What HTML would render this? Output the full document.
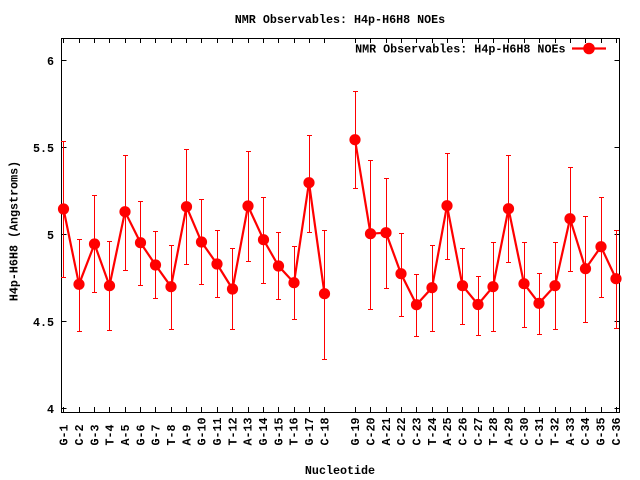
<!DOCTYPE html>
<html>
<head>
<meta charset="utf-8">
<style>
html,body{margin:0;padding:0;background:#fff;}
svg{display:block;}
text{font-family:"Liberation Mono","DejaVu Sans Mono",monospace;font-weight:bold;font-size:11.7px;fill:#000;}
</style>
</head>
<body>
<svg width="640" height="480" viewBox="0 0 640 480" xmlns="http://www.w3.org/2000/svg">
<rect x="0" y="0" width="640" height="480" fill="#fff"/>
<!-- Title -->
<text x="340" y="23" text-anchor="middle">NMR Observables: H4p-H6H8 NOEs</text>
<!-- Frame -->
<g stroke="#000" stroke-width="1" fill="none" shape-rendering="crispEdges">
<rect x="61.5" y="38.5" width="558" height="374"/>
<!-- y ticks -->
<path d="M61.5 60.5h5M619.5 60.5h-5M61.5 147.5h5M619.5 147.5h-5M61.5 234.5h5M619.5 234.5h-5M61.5 321.5h5M619.5 321.5h-5M61.5 408.5h5M619.5 408.5h-5"/>
<!-- x ticks -->
<path d="M63.5 412v-5M63.5 38v5M79.5 412v-5M79.5 38v5M94.5 412v-5M94.5 38v5M109.5 412v-5M109.5 38v5M125.5 412v-5M125.5 38v5M140.5 412v-5M140.5 38v5M155.5 412v-5M155.5 38v5M171.5 412v-5M171.5 38v5M186.5 412v-5M186.5 38v5M201.5 412v-5M201.5 38v5M217.5 412v-5M217.5 38v5M232.5 412v-5M232.5 38v5M248.5 412v-5M248.5 38v5M263.5 412v-5M263.5 38v5M278.5 412v-5M278.5 38v5M294.5 412v-5M294.5 38v5M309.5 412v-5M309.5 38v5M324.5 412v-5M324.5 38v5M355.5 412v-5M355.5 38v5M370.5 412v-5M370.5 38v5M386.5 412v-5M386.5 38v5M401.5 412v-5M401.5 38v5M416.5 412v-5M416.5 38v5M432.5 412v-5M432.5 38v5M447.5 412v-5M447.5 38v5M462.5 412v-5M462.5 38v5M478.5 412v-5M478.5 38v5M493.5 412v-5M493.5 38v5M508.5 412v-5M508.5 38v5M524.5 412v-5M524.5 38v5M539.5 412v-5M539.5 38v5M555.5 412v-5M555.5 38v5M570.5 412v-5M570.5 38v5M585.5 412v-5M585.5 38v5M601.5 412v-5M601.5 38v5M616.5 412v-5M616.5 38v5"/>
</g>
<!-- y tick labels -->
<text x="54" y="65" text-anchor="end">6</text>
<text x="54" y="152" text-anchor="end">5.5</text>
<text x="54" y="239" text-anchor="end">5</text>
<text x="54" y="326" text-anchor="end">4.5</text>
<text x="54" y="413" text-anchor="end">4</text>
<!-- y axis label -->
<text transform="translate(17.5,231) rotate(-90)" text-anchor="middle">H4p-H6H8 (Angstroms)</text>
<!-- x axis label -->
<text x="340" y="474" text-anchor="middle">Nucleotide</text>
<!-- x tick labels -->
<g text-anchor="start">
<text transform="translate(67.5,445.5) rotate(-90)">G-1</text>
<text transform="translate(83,445.5) rotate(-90)">C-2</text>
<text transform="translate(98.5,445.5) rotate(-90)">G-3</text>
<text transform="translate(113.5,445.5) rotate(-90)">T-4</text>
<text transform="translate(129,445.5) rotate(-90)">A-5</text>
<text transform="translate(144.5,445.5) rotate(-90)">G-6</text>
<text transform="translate(159.5,445.5) rotate(-90)">G-7</text>
<text transform="translate(175,445.5) rotate(-90)">T-8</text>
<text transform="translate(190.5,445.5) rotate(-90)">A-9</text>
<text transform="translate(205.5,445.5) rotate(-90)">G-10</text>
<text transform="translate(221,445.5) rotate(-90)">G-11</text>
<text transform="translate(236.5,445.5) rotate(-90)">T-12</text>
<text transform="translate(251.5,445.5) rotate(-90)">A-13</text>
<text transform="translate(267,445.5) rotate(-90)">G-14</text>
<text transform="translate(282.5,445.5) rotate(-90)">G-15</text>
<text transform="translate(297.5,445.5) rotate(-90)">T-16</text>
<text transform="translate(313,445.5) rotate(-90)">G-17</text>
<text transform="translate(328.5,445.5) rotate(-90)">C-18</text>
<text transform="translate(359,445.5) rotate(-90)">G-19</text>
<text transform="translate(374.5,445.5) rotate(-90)">C-20</text>
<text transform="translate(390,445.5) rotate(-90)">A-21</text>
<text transform="translate(405,445.5) rotate(-90)">C-22</text>
<text transform="translate(420.5,445.5) rotate(-90)">C-23</text>
<text transform="translate(436,445.5) rotate(-90)">T-24</text>
<text transform="translate(451,445.5) rotate(-90)">A-25</text>
<text transform="translate(466.5,445.5) rotate(-90)">C-26</text>
<text transform="translate(482,445.5) rotate(-90)">C-27</text>
<text transform="translate(497,445.5) rotate(-90)">T-28</text>
<text transform="translate(512.5,445.5) rotate(-90)">A-29</text>
<text transform="translate(528,445.5) rotate(-90)">C-30</text>
<text transform="translate(543,445.5) rotate(-90)">C-31</text>
<text transform="translate(558.5,445.5) rotate(-90)">T-32</text>
<text transform="translate(574,445.5) rotate(-90)">A-33</text>
<text transform="translate(589,445.5) rotate(-90)">C-34</text>
<text transform="translate(604.5,445.5) rotate(-90)">G-35</text>
<text transform="translate(620,445.5) rotate(-90)">C-36</text>
</g>
<!-- Error bars -->
<g stroke="#f00" stroke-width="1" fill="none" shape-rendering="crispEdges">
<path d="M63.5 141.5V277.5M61 141.5h5M61 277.5h5"/>
<path d="M79.5 239.5V331.5M77 239.5h5M77 331.5h5"/>
<path d="M94.5 195.5V292.5M92 195.5h5M92 292.5h5"/>
<path d="M109.5 241.5V330.5M107 241.5h5M107 330.5h5"/>
<path d="M125.5 155.5V270.5M123 155.5h5M123 270.5h5"/>
<path d="M140.5 201.5V285.5M138 201.5h5M138 285.5h5"/>
<path d="M155.5 231.5V298.5M153 231.5h5M153 298.5h5"/>
<path d="M171.5 245.5V329.5M169 245.5h5M169 329.5h5"/>
<path d="M186.5 149.5V264.5M184 149.5h5M184 264.5h5"/>
<path d="M201.5 199.5V284.5M199 199.5h5M199 284.5h5"/>
<path d="M217.5 230.5V297.5M215 230.5h5M215 297.5h5"/>
<path d="M232.5 248.5V329.5M230 248.5h5M230 329.5h5"/>
<path d="M248.5 151.5V261.5M246 151.5h5M246 261.5h5"/>
<path d="M263.5 197.5V283.5M261 197.5h5M261 283.5h5"/>
<path d="M278.5 232.5V299.5M276 232.5h5M276 299.5h5"/>
<path d="M294.5 246.5V319.5M292 246.5h5M292 319.5h5"/>
<path d="M309.5 135.5V232.5M307 135.5h5M307 232.5h5"/>
<path d="M324.5 230.5V359.5M322 230.5h5M322 359.5h5"/>
<path d="M355.5 91.5V188.5M353 91.5h5M353 188.5h5"/>
<path d="M370.5 160.5V309.5M368 160.5h5M368 309.5h5"/>
<path d="M386.5 178.5V288.5M384 178.5h5M384 288.5h5"/>
<path d="M401.5 233.5V316.5M399 233.5h5M399 316.5h5"/>
<path d="M416.5 274.5V336.5M414 274.5h5M414 336.5h5"/>
<path d="M432.5 245.5V331.5M430 245.5h5M430 331.5h5"/>
<path d="M447.5 153.5V259.5M445 153.5h5M445 259.5h5"/>
<path d="M462.5 248.5V324.5M460 248.5h5M460 324.5h5"/>
<path d="M478.5 276.5V335.5M476 276.5h5M476 335.5h5"/>
<path d="M493.5 242.5V331.5M491 242.5h5M491 331.5h5"/>
<path d="M508.5 155.5V262.5M506 155.5h5M506 262.5h5"/>
<path d="M524.5 242.5V327.5M522 242.5h5M522 327.5h5"/>
<path d="M539.5 273.5V334.5M537 273.5h5M537 334.5h5"/>
<path d="M555.5 242.5V329.5M553 242.5h5M553 329.5h5"/>
<path d="M570.5 167.5V271.5M568 167.5h5M568 271.5h5"/>
<path d="M585.5 216.5V322.5M583 216.5h5M583 322.5h5"/>
<path d="M601.5 197.5V297.5M599 197.5h5M599 297.5h5"/>
<path d="M616.5 230.5V328.5M614 230.5h5M614 328.5h5"/>
</g>
<!-- Lines -->
<g stroke="#f00" stroke-width="2.2" fill="none" stroke-linejoin="round">
<polyline points="63.5,209 79,284.3 94.5,244 109.5,285.7 125,211.7 140.5,242.7 155.5,265 171,286.7 186.5,206.7 201.5,242 217,264 232.5,289 248,206 263.5,239.7 278.5,266 294,282.7 309,182.7 324.5,293.7"/>
<polyline points="355,139.7 370.5,233.7 386,232.7 401,273.7 416.5,304.7 432,287.7 447,205.7 462.5,285.7 478,304.5 493,286.7 508.5,208.7 524,283.7 539,303.3 555,285.7 570,218.7 585.5,268.7 601,246.7 616,278.7"/>
</g>
<!-- Markers -->
<g fill="#f00">
<circle cx="63.5" cy="209" r="5.6"/>
<circle cx="79" cy="284.3" r="5.6"/>
<circle cx="94.5" cy="244" r="5.6"/>
<circle cx="109.5" cy="285.7" r="5.6"/>
<circle cx="125" cy="211.7" r="5.6"/>
<circle cx="140.5" cy="242.7" r="5.6"/>
<circle cx="155.5" cy="265" r="5.6"/>
<circle cx="171" cy="286.7" r="5.6"/>
<circle cx="186.5" cy="206.7" r="5.6"/>
<circle cx="201.5" cy="242" r="5.6"/>
<circle cx="217" cy="264" r="5.6"/>
<circle cx="232.5" cy="289" r="5.6"/>
<circle cx="248" cy="206" r="5.6"/>
<circle cx="263.5" cy="239.7" r="5.6"/>
<circle cx="278.5" cy="266" r="5.6"/>
<circle cx="294" cy="282.7" r="5.6"/>
<circle cx="309" cy="182.7" r="5.6"/>
<circle cx="324.5" cy="293.7" r="5.6"/>
<circle cx="355" cy="139.7" r="5.6"/>
<circle cx="370.5" cy="233.7" r="5.6"/>
<circle cx="386" cy="232.7" r="5.6"/>
<circle cx="401" cy="273.7" r="5.6"/>
<circle cx="416.5" cy="304.7" r="5.6"/>
<circle cx="432" cy="287.7" r="5.6"/>
<circle cx="447" cy="205.7" r="5.6"/>
<circle cx="462.5" cy="285.7" r="5.6"/>
<circle cx="478" cy="304.5" r="5.6"/>
<circle cx="493" cy="286.7" r="5.6"/>
<circle cx="508.5" cy="208.7" r="5.6"/>
<circle cx="524" cy="283.7" r="5.6"/>
<circle cx="539" cy="303.3" r="5.6"/>
<circle cx="555" cy="285.7" r="5.6"/>
<circle cx="570" cy="218.7" r="5.6"/>
<circle cx="585.5" cy="268.7" r="5.6"/>
<circle cx="601" cy="246.7" r="5.6"/>
<circle cx="616" cy="278.7" r="5.6"/>
</g>
<!-- Legend -->
<text x="565.5" y="52.7" text-anchor="end">NMR Observables: H4p-H6H8 NOEs</text>
<line x1="572" y1="48.5" x2="606" y2="48.5" stroke="#f00" stroke-width="2.2"/>
<circle cx="589" cy="48.5" r="5.8" fill="#f00"/>
</svg>
</body>
</html>
